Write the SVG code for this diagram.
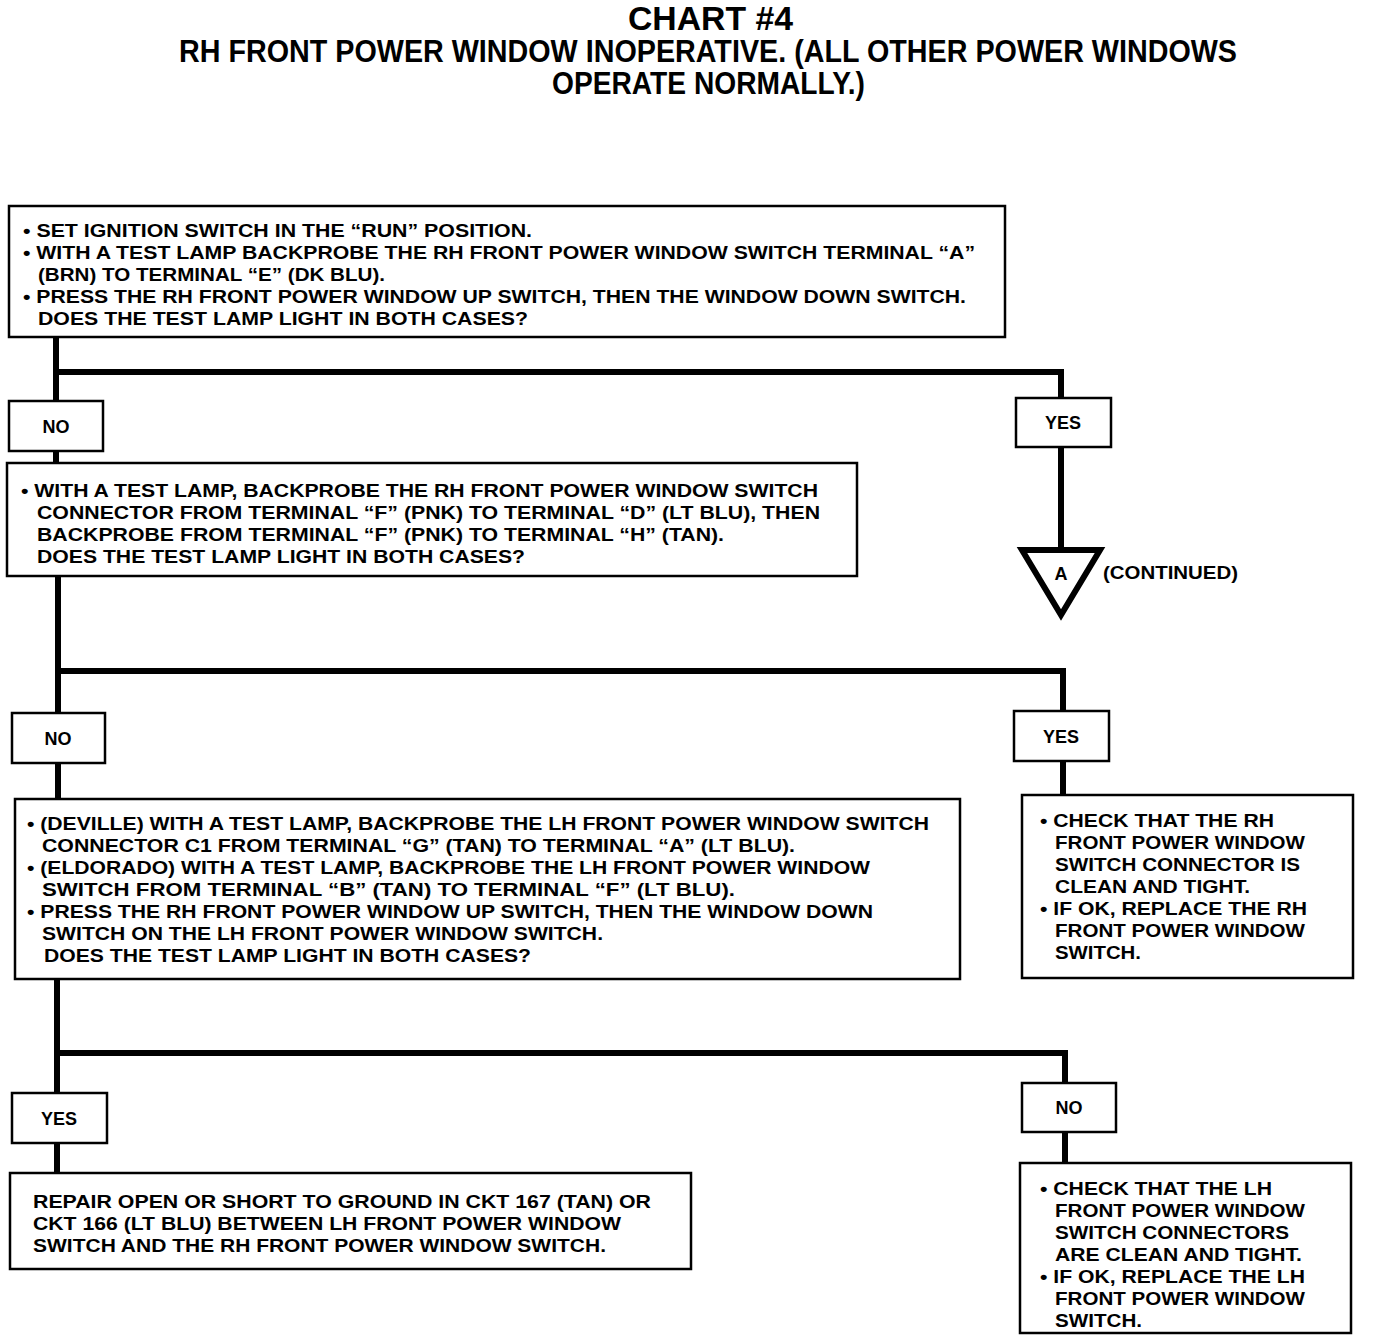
<svg xmlns="http://www.w3.org/2000/svg" width="1376" height="1344" viewBox="0 0 1376 1344">
<style>
text{font-family:"Liberation Sans",Arial,sans-serif;font-weight:bold;fill:#000}
.t{font-size:18px}
.title{font-size:33px}
.sub{font-size:31px}
.lbl{font-size:18px;text-anchor:middle}
.box{fill:#fff;stroke:#000;stroke-width:2.5}
.wire{fill:none;stroke:#000;stroke-width:6;stroke-linejoin:miter;stroke-linecap:butt}
</style>
<rect width="1376" height="1344" fill="#fff"/>
<g id="title">
<text class="title" x="628" y="30" textLength="165" lengthAdjust="spacingAndGlyphs">CHART #4</text>
<text class="sub" x="179" y="62" textLength="1058" lengthAdjust="spacingAndGlyphs">RH FRONT POWER WINDOW INOPERATIVE. (ALL OTHER POWER WINDOWS</text>
<text class="sub" x="552" y="94" textLength="313" lengthAdjust="spacingAndGlyphs">OPERATE NORMALLY.)</text>
</g>
<g id="connectors">
<path class="wire" d="M56,337 V372 H1061 V398"/>
<path class="wire" d="M56,372 V401"/>
<path class="wire" d="M56,451 V463"/>
<path class="wire" d="M1061,447 V550"/>
<path class="wire" d="M58,576 V671 H1063 V711"/>
<path class="wire" d="M58,671 V713"/>
<path class="wire" d="M58,763 V799"/>
<path class="wire" d="M1063,761 V795"/>
<path class="wire" d="M57,979 V1053 H1065 V1083"/>
<path class="wire" d="M57,1053 V1093"/>
<path class="wire" d="M57,1143 V1173"/>
<path class="wire" d="M1065,1132 V1163"/>
</g>
<g id="n1">
<rect class="box" x="9" y="206" width="996" height="131"/>
<text class="t" x="23" y="237" textLength="509" lengthAdjust="spacingAndGlyphs">• SET IGNITION SWITCH IN THE “RUN” POSITION.</text>
<text class="t" x="23" y="259" textLength="952" lengthAdjust="spacingAndGlyphs">• WITH A TEST LAMP BACKPROBE THE RH FRONT POWER WINDOW SWITCH TERMINAL “A”</text>
<text class="t" x="38" y="281" textLength="347" lengthAdjust="spacingAndGlyphs">(BRN) TO TERMINAL “E” (DK BLU).</text>
<text class="t" x="23" y="303" textLength="943" lengthAdjust="spacingAndGlyphs">• PRESS THE RH FRONT POWER WINDOW UP SWITCH, THEN THE WINDOW DOWN SWITCH.</text>
<text class="t" x="38" y="325" textLength="490" lengthAdjust="spacingAndGlyphs">DOES THE TEST LAMP LIGHT IN BOTH CASES?</text>
</g>
<g id="no1">
<rect class="box" x="9" y="401" width="94" height="50"/>
<text class="lbl" x="56" y="433">NO</text>
</g>
<g id="yes1">
<rect class="box" x="1016" y="398" width="95" height="49"/>
<text class="lbl" x="1063" y="429">YES</text>
</g>
<g id="a">
<polygon points="1022,550 1100,550 1061,615" fill="#fff" stroke="#000" stroke-width="6" stroke-linejoin="miter"/>
<text class="lbl" x="1061" y="580">A</text>
<text class="t" x="1103" y="579" textLength="135" lengthAdjust="spacingAndGlyphs">(CONTINUED)</text>
</g>
<g id="n2">
<rect class="box" x="7" y="463" width="850" height="113"/>
<text class="t" x="21" y="497" textLength="797" lengthAdjust="spacingAndGlyphs">• WITH A TEST LAMP, BACKPROBE THE RH FRONT POWER WINDOW SWITCH</text>
<text class="t" x="37" y="519" textLength="783" lengthAdjust="spacingAndGlyphs">CONNECTOR FROM TERMINAL “F” (PNK) TO TERMINAL “D” (LT BLU), THEN</text>
<text class="t" x="37" y="541" textLength="687" lengthAdjust="spacingAndGlyphs">BACKPROBE FROM TERMINAL “F” (PNK) TO TERMINAL “H” (TAN).</text>
<text class="t" x="37" y="563" textLength="488" lengthAdjust="spacingAndGlyphs">DOES THE TEST LAMP LIGHT IN BOTH CASES?</text>
</g>
<g id="no2">
<rect class="box" x="12" y="713" width="93" height="50"/>
<text class="lbl" x="58" y="745">NO</text>
</g>
<g id="yes2">
<rect class="box" x="1014" y="711" width="95" height="50"/>
<text class="lbl" x="1061" y="743">YES</text>
</g>
<g id="n3">
<rect class="box" x="15" y="799" width="945" height="180"/>
<text class="t" x="27" y="830" textLength="902" lengthAdjust="spacingAndGlyphs">• (DEVILLE) WITH A TEST LAMP, BACKPROBE THE LH FRONT POWER WINDOW SWITCH</text>
<text class="t" x="42" y="852" textLength="753" lengthAdjust="spacingAndGlyphs">CONNECTOR C1 FROM TERMINAL “G” (TAN) TO TERMINAL “A” (LT BLU).</text>
<text class="t" x="27" y="874" textLength="843" lengthAdjust="spacingAndGlyphs">• (ELDORADO) WITH A TEST LAMP, BACKPROBE THE LH FRONT POWER WINDOW</text>
<text class="t" x="42" y="896" textLength="693" lengthAdjust="spacingAndGlyphs">SWITCH FROM TERMINAL “B” (TAN) TO TERMINAL “F” (LT BLU).</text>
<text class="t" x="27" y="918" textLength="846" lengthAdjust="spacingAndGlyphs">• PRESS THE RH FRONT POWER WINDOW UP SWITCH, THEN THE WINDOW DOWN</text>
<text class="t" x="42" y="940" textLength="561" lengthAdjust="spacingAndGlyphs">SWITCH ON THE LH FRONT POWER WINDOW SWITCH.</text>
<text class="t" x="44" y="962" textLength="487" lengthAdjust="spacingAndGlyphs">DOES THE TEST LAMP LIGHT IN BOTH CASES?</text>
</g>
<g id="n4">
<rect class="box" x="1022" y="795" width="331" height="183"/>
<text class="t" x="1040" y="827" textLength="234" lengthAdjust="spacingAndGlyphs">• CHECK THAT THE RH</text>
<text class="t" x="1055" y="849" textLength="250" lengthAdjust="spacingAndGlyphs">FRONT POWER WINDOW</text>
<text class="t" x="1055" y="871" textLength="245" lengthAdjust="spacingAndGlyphs">SWITCH CONNECTOR IS</text>
<text class="t" x="1055" y="893" textLength="195" lengthAdjust="spacingAndGlyphs">CLEAN AND TIGHT.</text>
<text class="t" x="1040" y="915" textLength="267" lengthAdjust="spacingAndGlyphs">• IF OK, REPLACE THE RH</text>
<text class="t" x="1055" y="937" textLength="250" lengthAdjust="spacingAndGlyphs">FRONT POWER WINDOW</text>
<text class="t" x="1055" y="959" textLength="86" lengthAdjust="spacingAndGlyphs">SWITCH.</text>
</g>
<g id="yes3">
<rect class="box" x="12" y="1093" width="95" height="50"/>
<text class="lbl" x="59" y="1125">YES</text>
</g>
<g id="no3">
<rect class="box" x="1022" y="1083" width="94" height="49"/>
<text class="lbl" x="1069" y="1114">NO</text>
</g>
<g id="n5">
<rect class="box" x="10" y="1173" width="681" height="96"/>
<text class="t" x="33" y="1208" textLength="618" lengthAdjust="spacingAndGlyphs">REPAIR OPEN OR SHORT TO GROUND IN CKT 167 (TAN) OR</text>
<text class="t" x="33" y="1230" textLength="588" lengthAdjust="spacingAndGlyphs">CKT 166 (LT BLU) BETWEEN LH FRONT POWER WINDOW</text>
<text class="t" x="33" y="1252" textLength="573" lengthAdjust="spacingAndGlyphs">SWITCH AND THE RH FRONT POWER WINDOW SWITCH.</text>
</g>
<g id="n6">
<rect class="box" x="1020" y="1163" width="331" height="170"/>
<text class="t" x="1040" y="1195" textLength="232" lengthAdjust="spacingAndGlyphs">• CHECK THAT THE LH</text>
<text class="t" x="1055" y="1217" textLength="250" lengthAdjust="spacingAndGlyphs">FRONT POWER WINDOW</text>
<text class="t" x="1055" y="1239" textLength="234" lengthAdjust="spacingAndGlyphs">SWITCH CONNECTORS</text>
<text class="t" x="1055" y="1261" textLength="247" lengthAdjust="spacingAndGlyphs">ARE CLEAN AND TIGHT.</text>
<text class="t" x="1040" y="1283" textLength="265" lengthAdjust="spacingAndGlyphs">• IF OK, REPLACE THE LH</text>
<text class="t" x="1055" y="1305" textLength="250" lengthAdjust="spacingAndGlyphs">FRONT POWER WINDOW</text>
<text class="t" x="1055" y="1327" textLength="87" lengthAdjust="spacingAndGlyphs">SWITCH.</text>
</g>
</svg>
